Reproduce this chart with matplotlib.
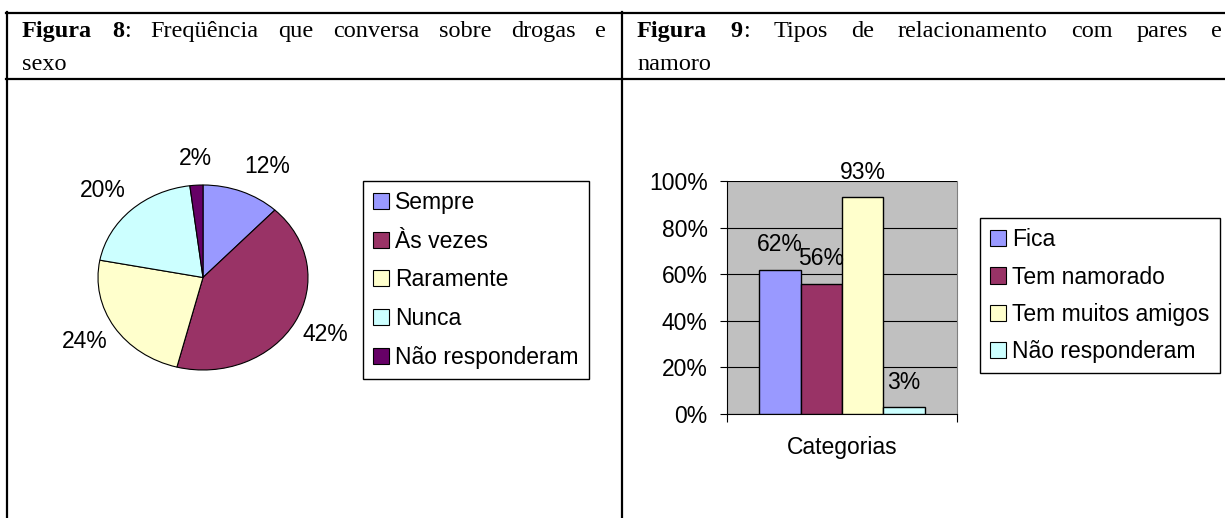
import matplotlib
matplotlib.use("Agg")
import matplotlib.pyplot as plt
import numpy as np
from matplotlib.lines import Line2D
from matplotlib.patches import Patch

plt.rcParams['font.family'] = ['Liberation Sans', 'DejaVu Sans']

# Figura 8 data
pie_labels = ["Sempre", "Às vezes", "Raramente", "Nunca", "Não responderam"]
pie_values = [12, 42, 24, 20, 2]
pie_colors = ["#9999FF", "#993366", "#FFFFCC", "#CCFFFF", "#660066"]

# Figura 9 data
bar_labels = ["Fica", "Tem namorado", "Tem muitos amigos", "Não responderam"]
bar_values = [62, 56, 93, 3]
bar_colors = ["#9999FF", "#993366", "#FFFFCC", "#CCFFFF"]
y_ticks = [0, 20, 40, 60, 80, 100]
category = "Categorias"

title8 = [[("Figura", "bold")], [("8", "bold"), (":", "normal")], [("Freqüência", "normal")],
          [("que", "normal")], [("conversa", "normal")], [("sobre", "normal")],
          [("drogas", "normal")], [("e", "normal")]]
title8_2 = "sexo"
title9 = [[("Figura", "bold")], [("9", "bold"), (":", "normal")], [("Tipos", "normal")],
          [("de", "normal")], [("relacionamento", "normal")], [("com", "normal")],
          [("pares", "normal")], [("e", "normal")]]
title9_2 = "namoro"

W, H = 1225, 518
fig = plt.figure(figsize=(W / 100, H / 100), dpi=100)
FS = 16.5
TFS = 17.5


def fx(px):
    return px / W


def fy(py):
    return 1 - py / H


# table borders
lw = 1.6
for x in (7, 622):
    fig.add_artist(Line2D([fx(x), fx(x)], [fy(12), 0], color="black", lw=lw))
for y in (13, 79):
    fig.add_artist(Line2D([fx(6), 1], [fy(y), fy(y)], color="black", lw=lw))

# justified title lines
renderer = fig.canvas.get_renderer()


def seg_width(s, wt):
    t = fig.text(0, 0, s, fontsize=TFS, family="Liberation Serif", weight=wt)
    w = t.get_window_extent(renderer).width
    t.remove()
    return w


def justify(words, x0, x1, ybase):
    widths = [sum(seg_width(s, wt) for s, wt in word) for word in words]
    gap = (x1 - x0 - sum(widths)) / (len(words) - 1)
    x = x0
    for word in words:
        for s, wt in word:
            fig.text(fx(x), fy(ybase), s, fontsize=TFS, family="Liberation Serif",
                     weight=wt, va="baseline", ha="left")
            x += seg_width(s, wt)
        x += gap


justify(title8, 22, 606, 37)
fig.text(fx(22), fy(70), title8_2, fontsize=TFS, family="Liberation Serif", va="baseline")
justify(title9, 637, 1222, 37)
fig.text(fx(637), fy(70), title9_2, fontsize=TFS, family="Liberation Serif", va="baseline")

# pie chart (Excel stretched ellipse)
cx, cy, rx, ry, k = 203, 277.5, 105, 92.5, 1.6
ax1 = fig.add_axes([fx(cx - rx * k), fy(cy + ry * k), 2 * rx * k / W, 2 * ry * k / H])
wedges, _ = ax1.pie(pie_values, colors=pie_colors, startangle=90, counterclock=False,
                    wedgeprops=dict(edgecolor="black", linewidth=0.8))
ax1.set_aspect("auto")
ax1.set_xlim(-k, k)
ax1.set_ylim(-k, k)
ax1.axis("off")
for w, v in zip(wedges, pie_values):
    ang = np.deg2rad((w.theta1 + w.theta2) / 2)
    c, s = np.cos(ang), np.sin(ang)
    ha = "center" if abs(c) < 0.2 else ("left" if c > 0 else "right")
    ax1.text(1.08 * c, 1.29 * s, f"{v}%", ha=ha, va="center", fontsize=FS)

handles = [Patch(facecolor=c, edgecolor="black", linewidth=0.8) for c in pie_colors]
fig.legend(handles, pie_labels, loc="upper left", bbox_to_anchor=(fx(363), fy(181)),
           bbox_transform=fig.transFigure, borderaxespad=0, fontsize=FS,
           frameon=True, fancybox=False, edgecolor="black", framealpha=1,
           handlelength=0.7, handleheight=0.7, handletextpad=0.25,
           labelspacing=0.68, borderpad=0.45)

# bar chart
ax2 = fig.add_axes([fx(727), fy(414), 230 / W, 233 / H])
ax2.set_facecolor("#C0C0C0")
bw = 0.18
xs = (np.arange(len(bar_values)) - (len(bar_values) - 1) / 2) * bw
bars = ax2.bar(xs, bar_values, width=bw, color=bar_colors, edgecolor="black",
               linewidth=1.0, zorder=3)
for x, v in zip(xs, bar_values):
    ax2.annotate(f"{v}%", (x, v), xytext=(0, 18), textcoords="offset points",
                 ha="center", va="center", fontsize=FS, zorder=4, annotation_clip=False)
ax2.set_xlim(-0.5, 0.5)
ax2.set_ylim(0, 100)
ax2.set_yticks(y_ticks)
ax2.set_yticklabels([f"{t}%" for t in y_ticks], fontsize=FS)
ax2.yaxis.grid(True, color="black", linewidth=0.8, zorder=1)
ax2.set_axisbelow(True)
ax2.tick_params(axis="y", direction="out", length=5, width=0.8, pad=9)
ax2.set_xticks([0])
ax2.set_xticklabels([category], fontsize=FS)
ax2.set_xticks([-0.5, 0.5], minor=True)
ax2.tick_params(axis="x", which="major", length=0, pad=16)
ax2.tick_params(axis="x", which="minor", direction="out", length=6, width=0.8)
ax2.spines["top"].set_visible(False)
ax2.spines["right"].set_color("#808080")
ax2.spines["left"].set_linewidth(0.8)
ax2.spines["bottom"].set_linewidth(0.8)

handles2 = [Patch(facecolor=c, edgecolor="black", linewidth=0.8) for c in bar_colors]
fig.legend(handles2, bar_labels, loc="upper left", bbox_to_anchor=(fx(980), fy(218)),
           bbox_transform=fig.transFigure, borderaxespad=0, fontsize=FS,
           frameon=True, fancybox=False, edgecolor="black", framealpha=1,
           handlelength=0.7, handleheight=0.7, handletextpad=0.25,
           labelspacing=0.62, borderpad=0.45)

fig.savefig("out.png", dpi=100)
